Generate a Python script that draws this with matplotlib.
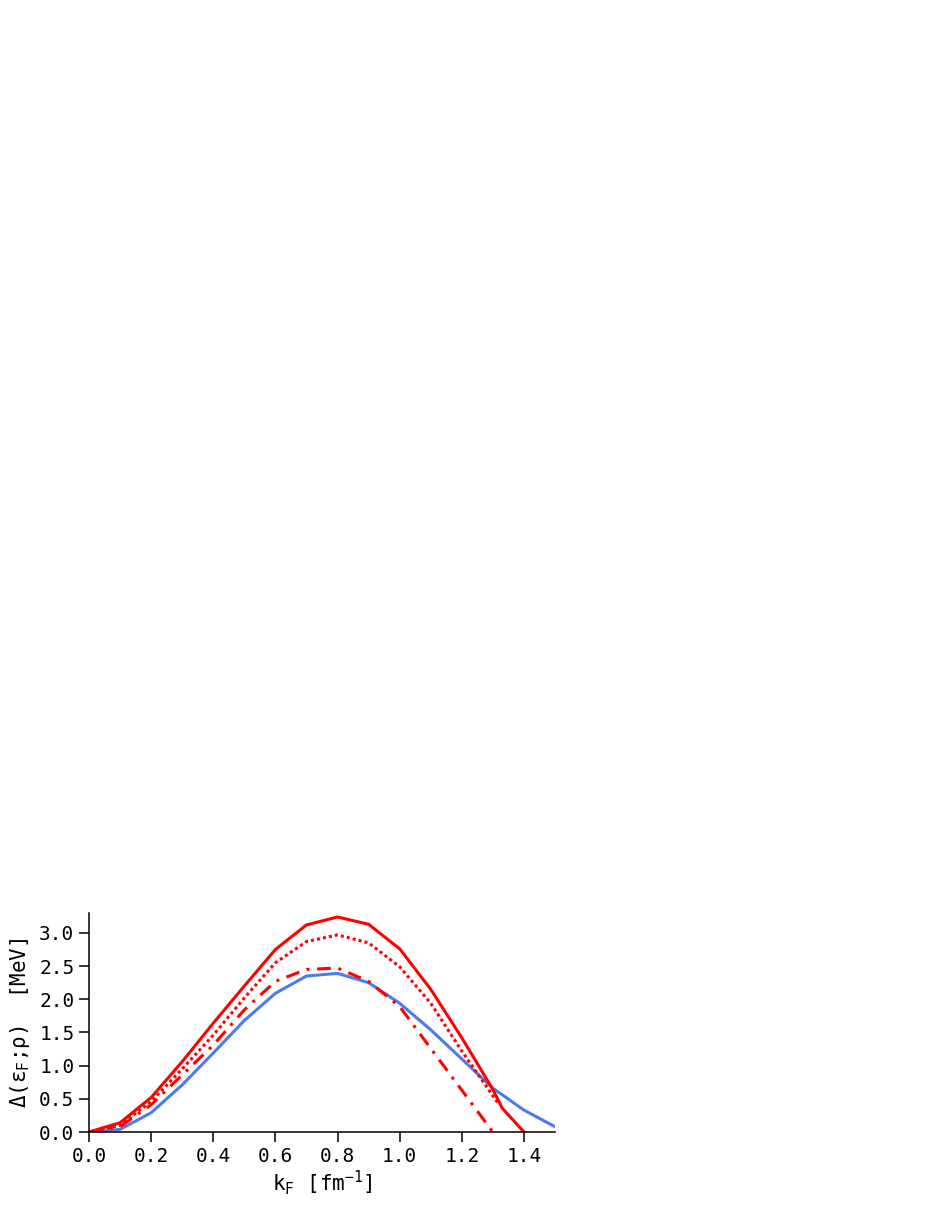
import matplotlib

matplotlib.use("Agg")
import matplotlib.pyplot as plt

# pairing gap vs Fermi momentum
kf = [0.0, 0.1, 0.2, 0.3, 0.4, 0.5, 0.6, 0.7, 0.8, 0.9, 1.0, 1.1, 1.2, 1.3, 1.4, 1.5]

kf_solid = [0.0, 0.1, 0.2, 0.3, 0.4, 0.5, 0.6, 0.7, 0.8, 0.9, 1.0, 1.1, 1.2, 1.3, 1.33, 1.4]
gap_solid = [0.0, 0.14, 0.52, 1.06, 1.64, 2.20, 2.75, 3.12, 3.24, 3.13, 2.76, 2.15, 1.42, 0.64, 0.36, 0.0]

kf_dot = [0.0, 0.1, 0.2, 0.3, 0.4, 0.5, 0.6, 0.7, 0.8, 0.9, 1.0, 1.1, 1.2, 1.32]
gap_dot = [0.0, 0.10, 0.46, 0.95, 1.46, 2.02, 2.55, 2.87, 2.97, 2.85, 2.49, 1.94, 1.22, 0.41]

kf_dd = [0.0, 0.1, 0.2, 0.3, 0.4, 0.5, 0.6, 0.7, 0.8, 0.9, 1.0, 1.1, 1.2, 1.3]
gap_dd = [0.0, 0.08, 0.41, 0.86, 1.31, 1.84, 2.27, 2.45, 2.47, 2.27, 1.89, 1.26, 0.63, 0.0]

gap_blue = [0.0, 0.04, 0.29, 0.71, 1.19, 1.68, 2.09, 2.35, 2.39, 2.25, 1.94, 1.54, 1.10, 0.66, 0.33, 0.08]

xticks = [0.0, 0.2, 0.4, 0.6, 0.8, 1.0, 1.2, 1.4]
yticks = [0.0, 0.5, 1.0, 1.5, 2.0, 2.5, 3.0]

plt.rcParams["font.family"] = ["DejaVu Sans Mono", "DejaVu Sans"]
plt.rcParams["mathtext.fontset"] = "custom"
plt.rcParams["mathtext.rm"] = "DejaVu Sans Mono"

fig = plt.figure(figsize=(9.35, 12.1), dpi=100)
ax = fig.add_axes([89 / 935, 78 / 1210, 466 / 935, 219 / 1210])

red = "#ff0000"
blue = "#4a7bf2"
lw = 2.2
ax.plot(kf, gap_blue, color=blue, lw=lw)
ax.plot(kf_dd, gap_dd, color=red, lw=lw, ls=(0, (4.5, 2.5, 1, 2.5)))
ax.plot(kf_dot, gap_dot, color=red, lw=lw, ls=(0, (1, 1)))
ax.plot(kf_solid, gap_solid, color=red, lw=lw)

ax.set_xlim(0, 1.5)
ax.set_ylim(0, 3.3)
ax.set_xticks(xticks)
ax.set_xticklabels([f"{v:.1f}" for v in xticks])
ax.set_yticks(yticks)
ax.set_yticklabels([f"{v:.1f}" for v in yticks])
ax.spines["top"].set_visible(False)
ax.spines["right"].set_visible(False)
for s in ("left", "bottom"):
    ax.spines[s].set_linewidth(1.1)
ax.tick_params(direction="out", length=7.5, width=1.1, labelsize=14, pad=3)

ax.set_xlabel(r"k$_\mathrm{F}$ [fm$^{-1}$]", fontsize=15, labelpad=2)
ax.set_ylabel(r"Δ(ε$_\mathrm{F}$;ρ)  [MeV]", fontsize=15, labelpad=5)

fig.savefig("out.png", dpi=100)
